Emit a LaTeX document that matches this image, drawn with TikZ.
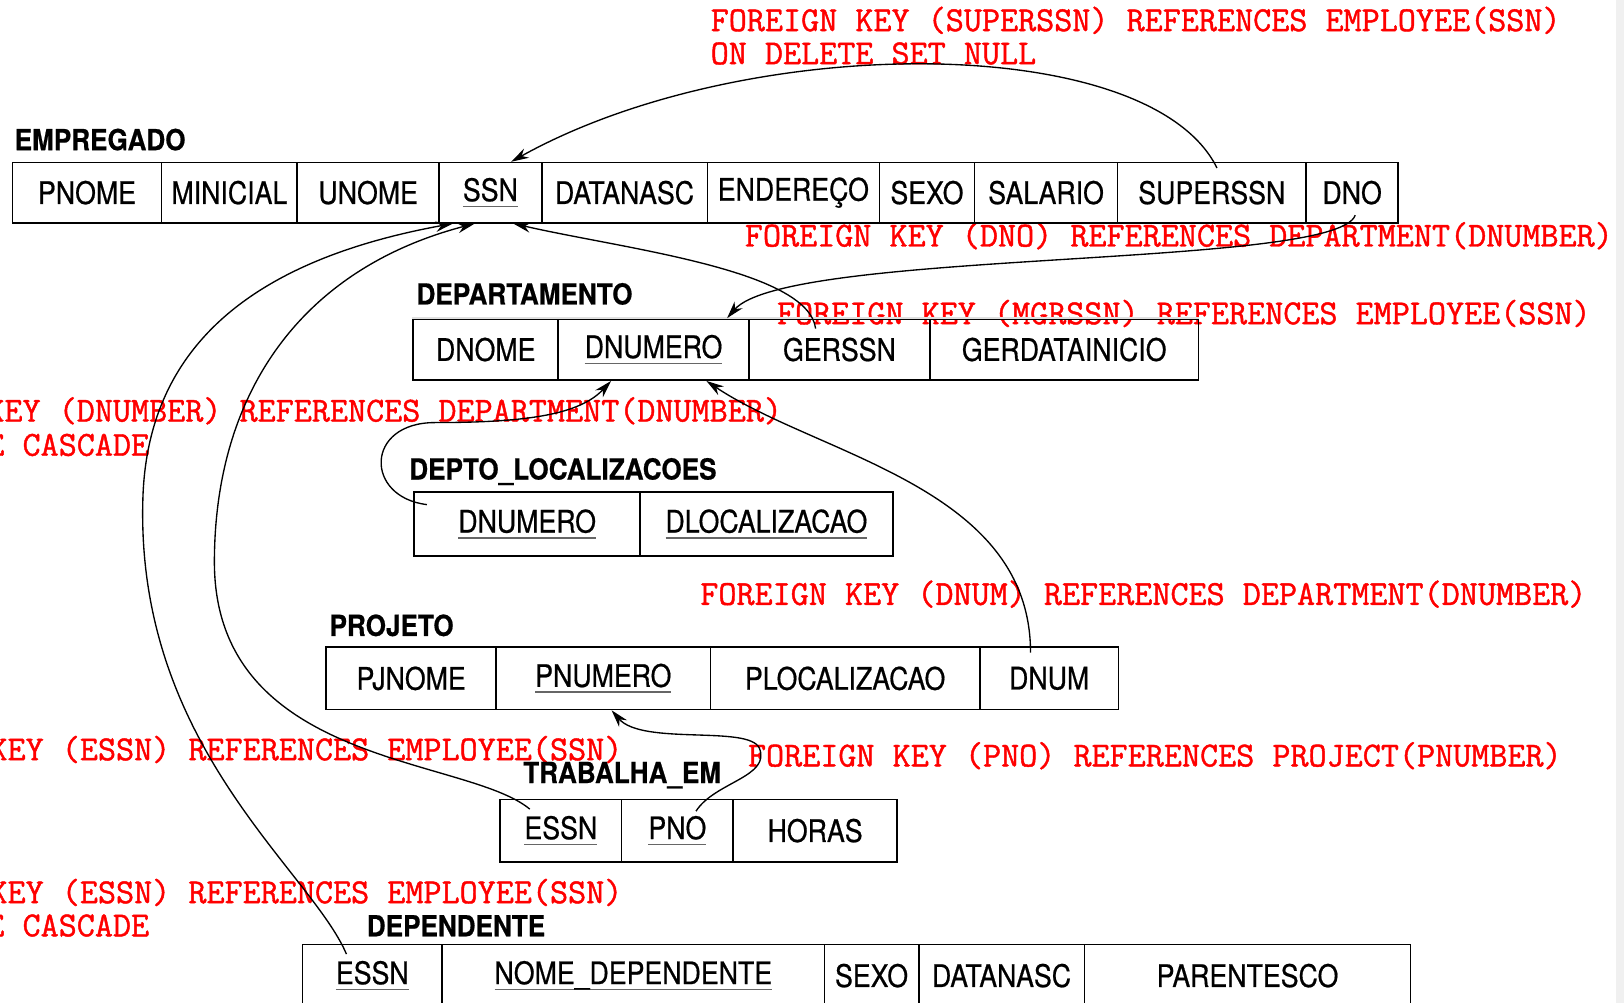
\documentclass[tikz,border=0pt]{standalone}
\usepackage{fontspec}
\usepackage{tikz}
\usetikzlibrary{arrows.meta}

\newfontfamily\cellfont{TeX Gyre Heros}[FakeStretch=0.86, FakeBold=0.6]
\newfontfamily\headfont{TeX Gyre Heros}[FakeStretch=0.9, FakeBold=0.6]
\newfontfamily\fkfont{Latin Modern Mono}[FakeBold=1.2]

\newsavebox{\pkbox}
\newcommand{\pk}[1]{\sbox{\pkbox}{#1}\rlap{\color{black!60}\rule[-6pt]{\wd\pkbox}{1.6pt}}\usebox{\pkbox}}

\tikzset{
  cell/.style={draw, line width=1.6pt, inner sep=0pt, minimum height=60pt,
               font=\cellfont\fontsize{30pt}{30pt}\selectfont},
  tablename/.style={anchor=base west, inner sep=0pt,
               font=\headfont\bfseries\fontsize{28pt}{28pt}\selectfont},
  fktext/.style={anchor=base west, inner sep=0pt, text=red,
               font=\fkfont\fontsize{33.9pt}{34pt}\selectfont},
  fkline/.style={line width=1.3pt, -{Stealth[length=17pt,width=10pt]}},
}

\begin{document}
\begin{tikzpicture}[x=1pt, y=-1pt]
\fill[white]   (0,0) rectangle (1568,968);
\fill[black!6] (1560,0) rectangle (1568,968);
\clip          (0,0) rectangle (1568,968);

%------------------------------------------------------
% red
\node[fktext] (fksuper)     at (686,30)   {FOREIGN KEY (SUPERSSN) REFERENCES EMPLOYEE(SSN)};
\node[fktext] (fksupernull) at (686,62)   {ON DELETE SET NULL};
\node[fktext] (fkdno)       at (719,238)  {FOREIGN KEY (DNO) REFERENCES DEPARTMENT(DNUMBER)};
\node[fktext] (fkmgr)       at (750,313)  {FOREIGN KEY (MGRSSN) REFERENCES EMPLOYEE(SSN)};
\node[fktext] (fkloc)       at (-153,407) {FOREIGN KEY (DNUMBER) REFERENCES DEPARTMENT(DNUMBER)};
\node[fktext] (fkloccasc)   at (-153,440) {ON DELETE CASCADE};
\node[fktext] (fkdnum)      at (676,584)  {FOREIGN KEY (DNUM) REFERENCES DEPARTMENT(DNUMBER)};
\node[fktext] (fkessn)      at (-150,734) {FOREIGN KEY (ESSN) REFERENCES EMPLOYEE(SSN)};
\node[fktext] (fkpno)       at (722,740)  {FOREIGN KEY (PNO) REFERENCES PROJECT(PNUMBER)};
\node[fktext] (fkdep)       at (-150,872) {FOREIGN KEY (ESSN) REFERENCES EMPLOYEE(SSN)};
\node[fktext] (fkdepcasc)   at (-153,904) {ON DELETE CASCADE};


%------------------------------------------------------
% EMPREGADO
\node[tablename] (empregado) at (14,145) {EMPREGADO};
\node[cell, minimum height=58pt, minimum width=144pt] (pnome)    at (84,186)     {PNOME};
\node[cell, minimum height=58pt, minimum width=131pt] (minicial) at (221.5,186)  {MINICIAL};
\node[cell, minimum height=58pt, minimum width=137pt] (unome)    at (355.5,186)  {UNOME};
\node[cell, minimum height=58pt, minimum width=99pt]  (ssn)      at (473.5,186)  {\pk{SSN}};
\node[cell, minimum height=58pt, minimum width=160pt] (datanasc) at (603,186)    {DATANASC};
\node[cell, minimum height=58pt, minimum width=166pt] (endereco) at (766,186)    {ENDEREÇO};
\node[cell, minimum height=58pt, minimum width=92pt]  (sexo)     at (895,186)    {SEXO};
\node[cell, minimum height=58pt, minimum width=138pt] (salario)  at (1010,186)   {SALARIO};
\node[cell, minimum height=58pt, minimum width=182pt] (superssn) at (1170,186)   {SUPERSSN};
\node[cell, minimum height=58pt, minimum width=89pt]  (dno)      at (1305.5,186) {DNO};

% DEPARTAMENTO
\node[tablename] (departamento) at (402,294) {DEPARTAMENTO};
\node[cell, minimum height=59pt, minimum width=140pt] (dnome)   at (469,337.5)    {DNOME};
\node[cell, minimum height=59pt, minimum width=184pt] (dnumero) at (631,337.5)    {\pk{DNUMERO}};
\node[cell, minimum height=59pt, minimum width=175pt] (gerssn)  at (810.5,337.5)  {GERSSN};
\node[cell, minimum height=59pt, minimum width=259pt] (gerdata) at (1027.5,337.5) {GERDATAINICIO};
\draw[black!12, line width=1.6pt] (dnome.north west) -- (gerdata.north east);

% DEPTO_LOCALIZACOES
\node[tablename] (deptoloc) at (395,463) {DEPTO\_LOCALIZACOES};
\node[cell, minimum height=62pt, minimum width=218pt] (dlnumero) at (509,506) {\pk{DNUMERO}};
\node[cell, minimum height=62pt, minimum width=244pt] (dlocal)   at (740,506) {\pk{DLOCALIZACAO}};

% PROJETO
\node[tablename] (projeto) at (318,614) {PROJETO};
\node[cell, minimum width=164pt] (pjnome)  at (397,655)   {PJNOME};
\node[cell, minimum width=207pt] (pnumero) at (582.5,655) {\pk{PNUMERO}};
\node[cell, minimum width=260pt] (plocal)  at (816,655)   {PLOCALIZACAO};
\node[cell, minimum width=134pt] (dnum)    at (1013,655)  {DNUM};

% TRABALHA_EM
\node[tablename] (trabalha) at (505,756) {TRABALHA\_EM};
\node[cell, minimum width=117pt] (tessn) at (541.5,802) {\pk{ESSN}};
\node[cell, minimum width=108pt] (pno)   at (654,802)   {\pk{PNO}};
\node[cell, minimum width=158pt] (horas) at (787,802)   {HORAS};

% DEPENDENTE
\node[tablename] (dependente) at (354,904) {DEPENDENTE};
\node[cell, minimum width=135pt] (dessn)      at (359.5,942)  {\pk{ESSN}};
\node[cell, minimum width=369pt] (nomedep)    at (611.5,942)  {\pk{NOME\_DEPENDENTE}};
\node[cell, minimum width=91pt]  (dsexo)      at (841.5,942)  {SEXO};
\node[cell, minimum width=160pt] (ddatanasc)  at (967,942)    {DATANASC};
\node[cell, minimum width=315pt] (parentesco) at (1204.5,942) {PARENTESCO};


%------------------------------------------------------
% foreign keys
\draw[fkline] ([xshift=5pt,yshift=-6pt]superssn.north)
      .. controls (1110,30) and (720,30) .. ([xshift=20pt]ssn.north);
\draw[fkline] ([xshift=3pt,yshift=8pt]dno.south)
      .. controls (1290,260) and (760,240) .. ([xshift=71pt]dnumero.north);
\draw[fkline] ([xshift=-23pt,yshift=-10pt]gerssn.north)
      .. controls (780,260) and (600,240) .. ([xshift=22pt]ssn.south);
\draw[fkline] ([xshift=13pt,yshift=-13pt]dlnumero.north west)
      .. controls (352,480) and (352,408) .. (420,408)
      .. controls (510,408) and (560,400) .. ([xshift=-41pt]dnumero.south);
\draw[fkline] ([xshift=-18pt,yshift=-6pt]dnum.north)
      .. controls (995,470) and (790,440) .. ([xshift=51pt]dnumero.south);
\draw[fkline] ([xshift=18pt,yshift=-12pt]pno.north)
      .. controls (690,755) and (745,750) .. (733,722)
      .. controls (722,700) and (620,720) .. ([xshift=8pt]pnumero.south);
\draw[fkline] ([xshift=-30pt,yshift=-10pt]tessn.north)
      .. controls (450,730) and (205,740) .. (207,540)
      .. controls (208,380) and (290,260) .. ([xshift=-15pt]ssn.south);
\draw[fkline] ([xshift=-25pt,yshift=-10pt]dessn.north)
      .. controls (300,840) and (130,720) .. (138,480)
      .. controls (143,330) and (250,250) .. ([xshift=-36pt]ssn.south);

\end{tikzpicture}
\end{document}
